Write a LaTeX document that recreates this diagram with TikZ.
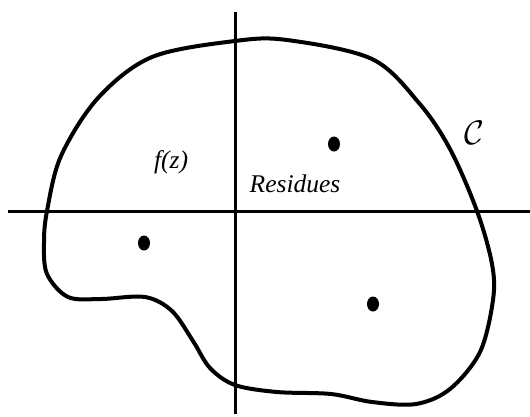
\documentclass[tikz,border=0pt]{standalone}
\usepackage{fontspec}
\setmainfont{Liberation Serif}
\begin{document}
\begin{tikzpicture}[x=1pt,y=-1pt,
  axis/.style={line width=3pt,black},
  contour/.style={line width=4pt,black,line join=round},
  pole/.style={fill=black},
  lbl/.style={font=\fontsize{25.5}{28}\selectfont\itshape,inner sep=0pt}]
\useasboundingbox (0,0) rectangle (530,416);
% axes
\coordinate (xl) at (8,211);
\coordinate (xr) at (530,211);
\coordinate (yt) at (235,12);
\coordinate (yb) at (235,414);
\draw[axis] (xl) -- (xr);
\draw[axis] (yt) -- (yb);
% contour
\draw[contour] plot[smooth cycle, tension=0.55] coordinates {
 (235,41) (287,40) (372,59) (419,103) (450,149) (477,211) (492,264)
 (493,300) (480,352) (450,389) (416,404) (372,402) (331,394) (277,392)
 (235,385) (210,368) (193,341) (172,311) (145,297) (101,299) (68,297)
 (47,274) (44,243) (47,211) (61,156) (98,98) (152,57)};
% poles
\fill[pole] (334,144) ellipse (6pt and 7.5pt);
\fill[pole] (144,243) ellipse (6pt and 7.5pt);
\fill[pole] (373,304) ellipse (6pt and 7.5pt);
% labels
\node[lbl] (fz) at (171,162) {f(z)};
\node[lbl] (res) at (295,184) {Residues};
\node[inner sep=0pt,scale=3.4] (C) at (474,133) {$\mathcal{C}$};
\end{tikzpicture}
\end{document}
